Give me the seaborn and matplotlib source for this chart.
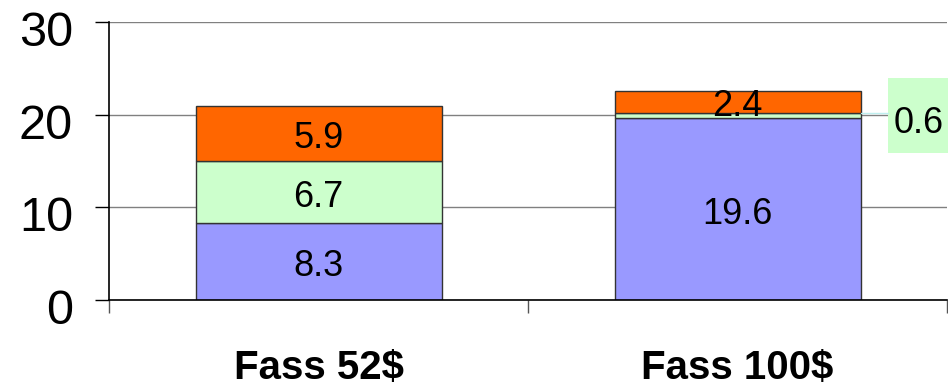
import matplotlib
matplotlib.use("Agg")
import matplotlib.pyplot as plt
import matplotlib.transforms as mtransforms
from matplotlib.patches import Rectangle
import seaborn as sns
import numpy as np

categories = ["Fass 52$", "Fass 100$"]
bottom_vals = [8.3, 19.6]
middle_vals = [6.7, 0.6]
top_vals = [5.9, 2.4]
y_ticks = [0, 10, 20, 30]

col_bottom = "#9999FF"
col_middle = "#CCFFCC"
col_top = "#FF6600"

sns.set_theme(style="white")
plt.rcParams['font.family'] = ['Liberation Sans', 'DejaVu Sans']
plt.rcParams['text.color'] = 'black'
plt.rcParams['xtick.color'] = 'black'
plt.rcParams['ytick.color'] = 'black'

fig = plt.figure(figsize=(9.48, 3.87), dpi=100)
ax = fig.add_axes([0.115, 0.2248, 0.884, 0.7183])

b1 = np.array(bottom_vals)
b2 = b1 + np.array(middle_vals)

ax.yaxis.grid(True, color="#808080", linewidth=1.0, zorder=0)
ax.set_axisbelow(True)

layers = [(bottom_vals, np.zeros(2), col_bottom),
          (middle_vals, b1, col_middle),
          (top_vals, b2, col_top)]
for vals, bot, col in layers:
    sns.barplot(x=categories, y=vals, bottom=bot, color=col, width=0.587,
                edgecolor="#333333", linewidth=1.0, saturation=1, ax=ax, zorder=2)

# value labels
for i in range(2):
    for vals, bot in [(bottom_vals, np.zeros(2)), (middle_vals, b1), (top_vals, b2)]:
        v = vals[i]
        if i == 1 and vals is middle_vals:
            # outside label with leader line and green box
            ax.add_patch(Rectangle((1.358, 15.86), 0.145, 8.1, facecolor=col_middle,
                                   edgecolor="none", clip_on=False, zorder=4))
            ax.plot([1.294, 1.358], [bot[i] + v, bot[i] + v], color="#BFEFEF",
                    lw=1.0, clip_on=False, zorder=4)
            ax.text(1.432, 19.05, f"{v}", ha="center", va="center", fontsize=26,
                    color="black", zorder=5, clip_on=False)
        else:
            ax.text(i, bot[i] + v / 2 - 0.55, f"{v}", ha="center", va="center",
                    fontsize=26, color="black", zorder=4)

ax.set_xlim(-0.5, 1.5)
ax.set_ylim(0, 30)
ax.set_yticks(y_ticks)
ax.set_yticklabels([str(t) for t in y_ticks], fontsize=35, color="black")
ax.tick_params(axis="y", which="major", direction="out", length=10, width=1,
               color="black", pad=16, left=True)
offset = mtransforms.ScaledTranslation(0, -0.065, fig.dpi_scale_trans)
for lbl in ax.get_yticklabels():
    lbl.set_transform(lbl.get_transform() + offset)
ax.set_xticks([0, 1])
ax.set_xticklabels(categories, fontsize=29, fontweight="bold", color="black")
ax.set_xticks([-0.5, 0.5, 1.5], minor=True)
ax.tick_params(axis="x", which="major", length=0, pad=35)
ax.tick_params(axis="x", which="minor", direction="out", length=9.5, width=1,
               color="#555555", bottom=True)

for s in ["top", "right"]:
    ax.spines[s].set_visible(False)
ax.spines["left"].set_color("black")
ax.spines["left"].set_linewidth(1.2)
ax.spines["bottom"].set_color("black")
ax.spines["bottom"].set_linewidth(1.2)
ax.set_xlabel("")
ax.set_ylabel("")

fig.savefig("out.png", dpi=100)
